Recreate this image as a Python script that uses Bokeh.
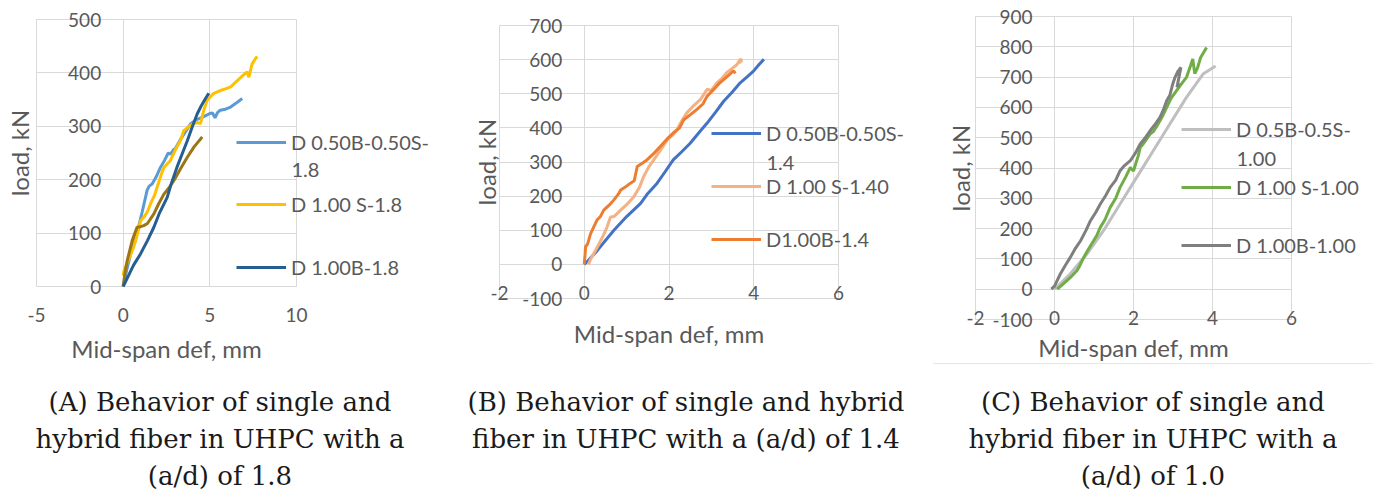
from bokeh.plotting import figure
from bokeh.models import Range1d, FixedTicker, Legend, LegendItem, Div, Label
from bokeh.layouts import row, column
from bokeh.embed import file_html
from bokeh.resources import INLINE

FONT = "Lato"
TXT = "#595959"
GRID = "#d9d9d9"

# ---------------- Panel A (a/d = 1.8) ----------------
a_labels = ["D 0.50B-0.50S-", "1.8", "D 1.00 S-1.8", "D 1.00B-1.8"]
a_colors = ["#5B9BD5", "#FFC000", "#255E91", "#9C7612"]
a_xticks = [-5, 0, 5, 10]
a_yticks = [0, 100, 200, 300, 400, 500]

a_hyb_x = [0, 0.2, 0.5, 0.8, 1.1, 1.38, 1.5, 1.67, 1.9, 2.15, 2.4, 2.6, 2.73, 2.9, 3.0, 3.3, 3.6, 3.9,
           4.2, 4.65, 5.0, 5.15, 5.3, 5.45, 5.6, 5.9, 6.2, 6.5, 6.87]
a_hyb_y = [0, 30, 70, 100, 140, 180, 188, 192, 205, 223, 237, 250, 248, 256, 258, 275, 290, 305,
           312, 318, 324, 325, 316, 326, 330, 332, 336, 343, 352]

a_s_x = [0, 0.05, 0.3, 0.6, 0.8, 1.0, 1.2, 1.4, 1.58, 1.8, 1.96, 2.2, 2.35, 2.55, 2.73, 3.0, 3.3, 3.5,
         3.8, 4.08, 4.3, 4.46, 4.65, 4.85, 5.2, 5.6, 5.9, 6.2, 6.6, 6.9, 7.15, 7.25, 7.35, 7.44, 7.6, 7.73]
a_s_y = [20, 30, 50, 73, 95, 123, 130, 140, 155, 170, 186, 210, 223, 230, 236, 255, 273, 292,
         300, 305, 307, 305, 330, 349, 361, 367, 370, 374, 386, 395, 402, 392, 405, 417, 425, 431]

a_b_x = [0, 0.3, 0.6, 1.0, 1.4, 1.77, 2.1, 2.54, 2.8, 3.1, 3.4, 3.7, 4.0, 4.27, 4.5, 4.75, 4.94]
a_b_y = [0, 20, 40, 61, 86, 111, 138, 167, 195, 223, 248, 273, 300, 323, 338, 352, 362]

a_u_x = [0, 0.1, 0.23, 0.52, 0.8, 1.0, 1.19, 1.4, 1.77, 2.05, 2.35, 2.6, 2.92, 3.3, 3.7, 4.1, 4.56]
a_u_y = [0, 25, 48, 86, 111, 112, 114, 118, 136, 155, 173, 183, 198, 220, 242, 262, 280]

# ---------------- Panel B (a/d = 1.4) ----------------
b_labels = ["D 0.50B-0.50S-", "1.4", "D 1.00 S-1.40", "D1.00B-1.4"]
b_colors = ["#4472C4", "#F4B183", "#ED7D31"]
b_xticks = [-2, 0, 2, 4, 6]
b_yticks = [-100, 0, 100, 200, 300, 400, 500, 600, 700]

b_hyb_x = [0, 0.1, 0.31, 0.5, 0.7, 1.0, 1.33, 1.5, 1.72, 1.9, 2.1, 2.3, 2.5, 2.7, 2.9, 3.1, 3.29,
           3.5, 3.68, 3.85, 4.0, 4.12, 4.24]
b_hyb_y = [0, 12, 41, 70, 100, 140, 179, 208, 238, 270, 306, 330, 355, 385, 414, 446, 478,
           506, 532, 550, 567, 585, 601]

b_s_x = [0.1, 0.15, 0.31, 0.45, 0.54, 0.62, 0.7, 0.86, 1.0, 1.17, 1.3, 1.4, 1.52, 1.64, 1.8, 1.96,
         2.1, 2.19, 2.3, 2.42, 2.58, 2.74, 2.9, 3.0, 3.13, 3.25, 3.36, 3.5, 3.6, 3.68, 3.72, 3.65]
b_s_y = [0, 15, 51, 85, 110, 139, 140, 159, 175, 198, 225, 257, 285, 306, 335, 365,
         380, 395, 420, 444, 465, 483, 513, 510, 532, 545, 562, 575, 585, 601, 598, 590]

b_b_x = [0, 0.02, 0.03, 0.08, 0.15, 0.3, 0.38, 0.46, 0.6, 0.7, 0.8, 0.86, 0.95, 1.09, 1.18, 1.25,
         1.35, 1.48, 1.65, 1.8, 1.95, 2.1, 2.25, 2.35, 2.5, 2.66, 2.8, 2.9, 3.05, 3.2, 3.35, 3.52, 3.57]
b_b_y = [0, 30, 51, 60, 90, 130, 140, 159, 175, 189, 205, 218, 225, 238, 245, 287,
         295, 306, 326, 346, 367, 385, 400, 424, 438, 454, 470, 493, 512, 532, 548, 567, 560]

# ---------------- Panel C (a/d = 1.0) ----------------
c_labels = ["D 0.5B-0.5S-", "1.00", "D 1.00 S-1.00", "D 1.00B-1.00"]
c_colors = ["#BFBFBF", "#70AD47", "#7F7F7F"]
c_xticks = [-2, 0, 2, 4, 6]
c_yticks = [-100, 0, 100, 200, 300, 400, 500, 600, 700, 800, 900]

c_hyb_x = [0, 0.4, 0.82, 1.24, 1.66, 2.08, 2.5, 2.92, 3.34, 3.76, 4.08]
c_hyb_y = [0, 51, 116, 193, 281, 369, 457, 545, 633, 710, 737]

c_s_x = [0.07, 0.2, 0.32, 0.45, 0.57, 0.65, 0.74, 0.85, 0.99, 1.08, 1.16, 1.28, 1.41, 1.55, 1.66,
         1.8, 1.92, 2.0, 2.08, 2.12, 2.17, 2.25, 2.42, 2.5, 2.6, 2.67, 2.75, 2.84, 2.95, 3.09, 3.2,
         3.34, 3.45, 3.5, 3.55, 3.62, 3.7, 3.85]
c_s_y = [0, 15, 29, 45, 62, 80, 105, 130, 160, 180, 204, 230, 270, 300, 336,
         370, 402, 390, 424, 440, 468, 480, 512, 520, 540, 556, 575, 600, 630, 655, 675,
         699, 740, 760, 712, 730, 765, 798]

c_b_x = [-0.08, 0.0, 0.15, 0.28, 0.4, 0.53, 0.66, 0.8, 0.91, 1.05, 1.16, 1.3, 1.41, 1.55, 1.66,
         1.75, 1.92, 2.05, 2.17, 2.3, 2.42, 2.55, 2.67, 2.75, 2.84, 2.92, 2.95, 3.0, 3.05, 3.13,
         3.2, 3.1, 3.15]
c_b_y = [0, 10, 51, 80, 105, 135, 160, 195, 226, 255, 281, 310, 336, 360, 391,
         405, 424, 450, 479, 500, 523, 545, 567, 590, 622, 640, 655, 680, 699, 720,
         732, 666, 680]

captions = [
    "(A) Behavior of single and<br>hybrid fiber in UHPC with a<br>(a/d) of 1.8",
    "(B) Behavior of single and hybrid<br>fiber in UHPC with a (a/d) of 1.4",
    "(C) Behavior of single and<br>hybrid fiber in UHPC with a<br>(a/d) of 1.0",
]

FIG_H = 363


def make_fig(w, xb, yb, px, py, xticks, yticks, x_std, x_title_std, y_title_std):
    """xb/yb: data bounds of the plot area; px/py: their pixel positions (left,right)/(bottom,top)."""
    sx = (px[1] - px[0]) / (xb[1] - xb[0])
    sy = (py[0] - py[1]) / (yb[1] - yb[0])
    xr = Range1d(xb[0] - px[0] / sx, xb[0] + (w - px[0]) / sx)
    yr = Range1d(yb[0] - (FIG_H - py[0]) / sy, yb[1] + py[1] / sy)
    p = figure(width=w, height=FIG_H, x_range=xr, y_range=yr,
               output_backend="svg", toolbar_location=None,
               min_border_left=0, min_border_right=0, min_border_top=0, min_border_bottom=0)
    p.background_fill_color = "white"
    p.border_fill_color = "white"
    p.outline_line_color = None
    p.xaxis.ticker = FixedTicker(ticks=xticks)
    p.yaxis.ticker = FixedTicker(ticks=yticks)
    p.xaxis.major_label_overrides = {t: str(t) for t in xticks}
    p.yaxis.major_label_overrides = {t: str(t) for t in yticks}
    p.grid.grid_line_color = GRID
    p.grid.grid_line_width = 1
    try:
        p.xgrid[0].cross_bounds = yb
        p.ygrid[0].cross_bounds = xb
    except AttributeError:
        pass
    for ax in (p.xaxis[0], p.yaxis[0]):
        ax.axis_line_color = None
        ax.major_tick_line_color = None
        ax.minor_tick_line_color = None
        ax.major_tick_out = 0
        ax.major_tick_in = 0
        ax.major_label_text_font = FONT
        ax.major_label_text_font_size = "19px"
        ax.major_label_text_color = TXT
        ax.axis_label_text_font = FONT
        ax.axis_label_text_font_size = "24px"
        ax.axis_label_text_color = TXT
        ax.axis_label_text_font_style = "normal"
    p.yaxis.fixed_location = 0
    p.yaxis.bounds = yb
    p.yaxis.major_label_standoff = 22
    p.yaxis.axis_label = "load, kN"
    p.yaxis.axis_label_standoff = y_title_std
    p.xaxis.fixed_location = yb[0]
    p.xaxis.bounds = xb
    p.xaxis.major_label_standoff = x_std
    p.xaxis.axis_label = "Mid-span def, mm"
    p.xaxis.axis_label_standoff = x_title_std
    return p


def add_leg(p, r, label, vx, center_y):
    vy = FIG_H - 12 - center_y
    leg = Legend(items=[LegendItem(label=label, renderers=[r])], location=(vx, vy),
                 border_line_color=None, background_fill_alpha=0, padding=0, margin=0,
                 spacing=0, label_standoff=5, glyph_width=50, glyph_height=20,
                 label_height=20, label_text_font=FONT, label_text_font_size="20px",
                 label_text_color=TXT)
    p.add_layout(leg, "center")


def add_wrap(p, text, x, center_y):
    p.add_layout(Label(x=x, y=FIG_H - center_y, x_units="screen", y_units="screen", text=text,
                       text_font=FONT, text_font_size="20px", text_color=TXT,
                       text_baseline="middle", text_align="left"))


LW = 3

# Panel A
pA = make_fig(440, (-5, 10), (0, 500), (36, 296), (286, 19), a_xticks, a_yticks, 21, 9, 31)
rA1 = pA.line(a_hyb_x, a_hyb_y, line_color=a_colors[0], line_width=LW)
rA2 = pA.line(a_s_x, a_s_y, line_color=a_colors[1], line_width=LW)
rA4 = pA.line(a_u_x, a_u_y, line_color=a_colors[3], line_width=LW)
rA3 = pA.line(a_b_x, a_b_y, line_color=a_colors[2], line_width=LW)
add_leg(pA, rA1, a_labels[0], 236, 142)
add_wrap(pA, a_labels[1], 291, 169)
add_leg(pA, rA2, a_labels[2], 236, 204)
add_leg(pA, rA3, a_labels[3], 236, 267)

# Panel B
pB = make_fig(480, (-2, 6), (-100, 700), (59, 398), (298, 25), b_xticks, b_yticks, -13, 16, 18)
rB1 = pB.line(b_hyb_x, b_hyb_y, line_color=b_colors[0], line_width=LW)
rB2 = pB.line(b_s_x, b_s_y, line_color=b_colors[1], line_width=LW)
rB3 = pB.line(b_b_x, b_b_y, line_color=b_colors[2], line_width=LW)
add_leg(pB, rB1, b_labels[0], 271, 133)
add_wrap(pB, b_labels[1], 326, 162)
add_leg(pB, rB2, b_labels[2], 271, 186)
add_leg(pB, rB3, b_labels[3], 271, 239)

# Panel C
pC = make_fig(453, (-2, 6), (-100, 900), (55, 371), (319, 16), c_xticks, c_yticks, -9, 5, 14)
rC1 = pC.line(c_hyb_x, c_hyb_y, line_color=c_colors[0], line_width=LW)
rC2 = pC.line(c_s_x, c_s_y, line_color=c_colors[1], line_width=LW)
rC3 = pC.line(c_b_x, c_b_y, line_color=c_colors[2], line_width=LW)
add_leg(pC, rC1, c_labels[0], 261, 129)
add_wrap(pC, c_labels[1], 316, 158)
add_leg(pC, rC2, c_labels[2], 261, 187)
add_leg(pC, rC3, c_labels[3], 261, 245)


def cap(text, w, extra=None, margin=0):
    st = {"font-family": "DejaVu Serif", "font-size": "26px", "line-height": "37px",
          "color": "#1a1a1a", "text-align": "center", "width": f"{w}px",
          "padding-top": "21px", "box-sizing": "border-box", "height": "127px"}
    if extra:
        st.update(extra)
    return Div(text=text, width=w, height=127, margin=margin, styles=st)


capA = cap(captions[0], 440)
capB = cap(captions[1], 480, {"padding-left": "12px"})
capC = cap(captions[2], 440, {"border-top": "1px solid #e6e6e6", "padding-top": "20px"}, margin=(0, 0, 0, 13))

layout = row(
    column(pA, capA, spacing=0),
    column(pB, capB, spacing=0),
    column(pC, capC, spacing=0),
    spacing=0,
)

with open("out.html", "w") as f:
    f.write(file_html(layout, INLINE))
